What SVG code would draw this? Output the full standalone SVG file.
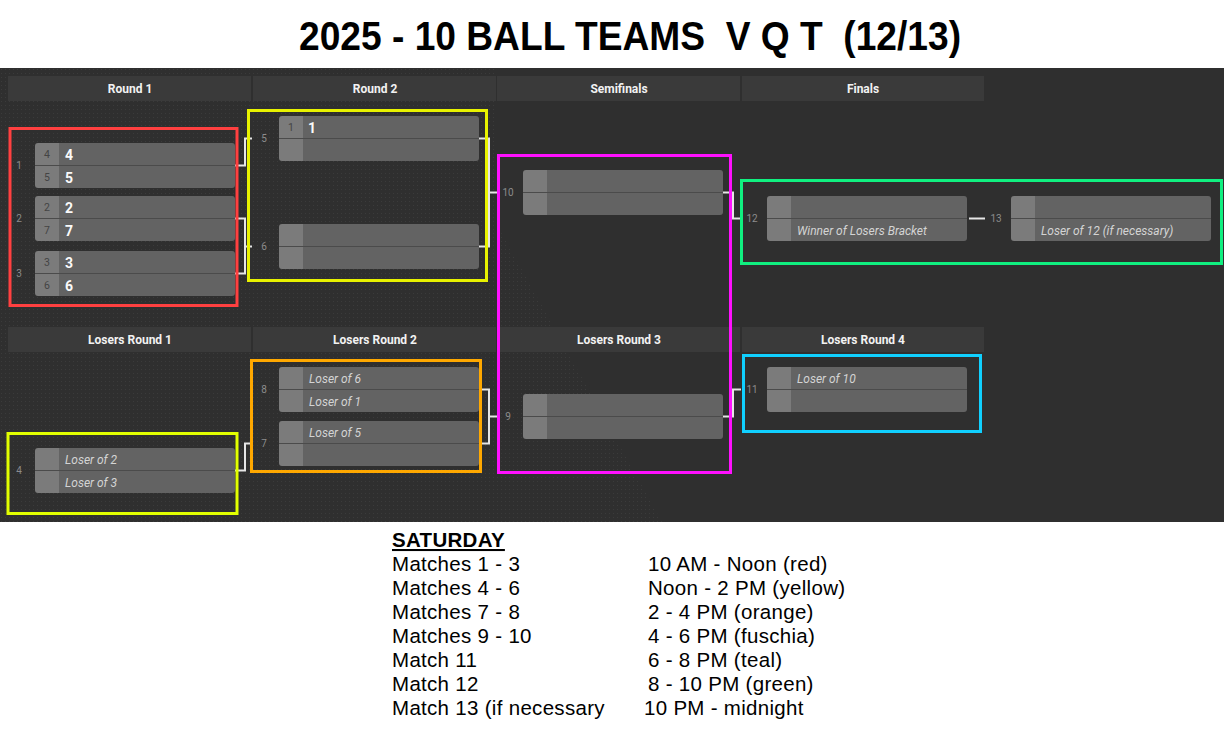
<svg xmlns="http://www.w3.org/2000/svg" xmlns:xlink="http://www.w3.org/1999/xlink" width="1224" height="736" viewBox="0 0 1224 736">
<style>
.hdr{fill:#3a3a3a}
.ht{font-family:Roboto,"Open Sans",sans-serif;font-weight:bold;font-size:12px;fill:#f2f2f2;text-anchor:middle}
.mn{font-family:Roboto,"Open Sans",sans-serif;font-size:10px;fill:#8c8c8c;text-anchor:middle}
.sd{font-family:Roboto,"Open Sans",sans-serif;font-size:10.5px;fill:#444;text-anchor:middle}
.tn{font-family:Roboto,"Open Sans",sans-serif;font-weight:bold;font-size:14px;fill:#fafafa}
.it{font-family:Roboto,"Open Sans",sans-serif;font-style:italic;font-size:12px;fill:#d4d4d4}
.con{fill:none;stroke:#e6e6e6;stroke-width:2}
.hl{fill:none;stroke-width:3}
.bt{font-family:"Liberation Sans",Arial,sans-serif;font-size:20.5px;letter-spacing:0.3px;fill:#000}
</style>
<defs>
<pattern id="dots" width="4" height="4" patternUnits="userSpaceOnUse">
<rect x="1" y="1" width="1" height="1" fill="#3b3b3b"/>
</pattern>
<g id="box">
<path d="M3,0 H24 V45 H3 A3,3 0 0 1 0,42 V3 A3,3 0 0 1 3,0 Z" fill="#7b7b7b"/>
<path d="M24,0 H197 A3,3 0 0 1 200,3 V42 A3,3 0 0 1 197,45 H24 Z" fill="#636363"/>
<line x1="0" y1="22.5" x2="200" y2="22.5" stroke="#4b4b4b" stroke-width="1"/>
</g>
</defs>
<rect width="1224" height="736" fill="#fff"/>
<text x="630" y="50" xml:space="preserve" text-anchor="middle" font-family="Liberation Sans, Arial, sans-serif" font-weight="bold" font-size="40" fill="#000" textLength="662" lengthAdjust="spacingAndGlyphs">2025 - 10 BALL TEAMS  V Q T  (12/13)</text>
<rect x="0" y="68" width="1224" height="454" fill="#2f2f2f"/>
<polygon points="0,68 497,68 497,225 662,522 0,522" fill="url(#dots)"/>

<g id="headers">
<rect class="hdr" x="8" y="76" width="243" height="25"/>
<rect class="hdr" x="253" y="76" width="243" height="25"/>
<rect class="hdr" x="497" y="76" width="243" height="25"/>
<rect class="hdr" x="742" y="76" width="242" height="25"/>
<text class="ht" x="130" y="92.5">Round 1</text>
<text class="ht" x="375" y="92.5">Round 2</text>
<text class="ht" x="619" y="92.5">Semifinals</text>
<text class="ht" x="863" y="92.5">Finals</text>
<rect class="hdr" x="8" y="327" width="243" height="25"/>
<rect class="hdr" x="253" y="327" width="243" height="25"/>
<rect class="hdr" x="497" y="327" width="243" height="25"/>
<rect class="hdr" x="742" y="327" width="242" height="25"/>
<text class="ht" x="130" y="343.5">Losers Round 1</text>
<text class="ht" x="375" y="343.5">Losers Round 2</text>
<text class="ht" x="619" y="343.5">Losers Round 3</text>
<text class="ht" x="863" y="343.5">Losers Round 4</text>
</g>

<g id="connectors">
<path class="con" d="M235,165.5 H245 V138.5 H252"/>
<path class="con" d="M235,218.5 H245 V273.5 H235 M245,246.5 H252"/>
<path class="con" d="M479,138.5 H489 V246.5 H479 M489,192.5 H497"/>
<path class="con" d="M723,192.5 H733 V218.5 H741"/>
<path class="con" d="M969,218.5 H985" stroke-width="2.5"/>
<path class="con" d="M235,470.5 H245 V443.5 H252"/>
<path class="con" d="M479,389.5 H489 V443.5 H479 M489,416.5 H497"/>
<path class="con" d="M723,416.5 H733 V389.5 H741"/>
</g>

<g id="m1">
<text class="mn" x="19" y="169">1</text>
<use xlink:href="#box" href="#box" x="35" y="143"/>
<text class="sd" x="47" y="158">4</text><text class="tn" x="65" y="159.5">4</text>
<text class="sd" x="47" y="181">5</text><text class="tn" x="65" y="182.5">5</text>
</g>
<g id="m2">
<text class="mn" x="19" y="222">2</text>
<use xlink:href="#box" href="#box" x="35" y="196"/>
<text class="sd" x="47" y="211">2</text><text class="tn" x="65" y="212.5">2</text>
<text class="sd" x="47" y="234">7</text><text class="tn" x="65" y="235.5">7</text>
</g>
<g id="m3">
<text class="mn" x="19" y="277">3</text>
<use xlink:href="#box" href="#box" x="35" y="251"/>
<text class="sd" x="47" y="266">3</text><text class="tn" x="65" y="267.5">3</text>
<text class="sd" x="47" y="289">6</text><text class="tn" x="65" y="290.5">6</text>
</g>
<g id="m5">
<text class="mn" x="264" y="142">5</text>
<use xlink:href="#box" href="#box" x="279" y="116"/>
<text class="sd" x="291" y="131">1</text><text class="tn" x="308" y="132.5">1</text>
</g>
<g id="m6">
<text class="mn" x="264" y="250">6</text>
<use xlink:href="#box" href="#box" x="279" y="224"/>
</g>
<g id="m10">
<text class="mn" x="508" y="196">10</text>
<use xlink:href="#box" href="#box" x="523" y="170"/>
</g>
<g id="m12">
<text class="mn" x="752" y="222">12</text>
<use xlink:href="#box" href="#box" x="767" y="196"/>
<text class="it" x="797" y="234.5">Winner of Losers Bracket</text>
</g>
<g id="m13">
<text class="mn" x="996" y="222">13</text>
<use xlink:href="#box" href="#box" x="1011" y="196"/>
<text class="it" x="1041" y="234.5">Loser of 12 (if necessary)</text>
</g>
<g id="m4">
<text class="mn" x="19" y="474">4</text>
<use xlink:href="#box" href="#box" x="35" y="448"/>
<text class="it" x="65" y="463.5">Loser of 2</text>
<text class="it" x="65" y="486.5">Loser of 3</text>
</g>
<g id="m8">
<text class="mn" x="264" y="393">8</text>
<use xlink:href="#box" href="#box" x="279" y="367"/>
<text class="it" x="309" y="382.5">Loser of 6</text>
<text class="it" x="309" y="405.5">Loser of 1</text>
</g>
<g id="m7">
<text class="mn" x="264" y="447">7</text>
<use xlink:href="#box" href="#box" x="279" y="421"/>
<text class="it" x="309" y="436.5">Loser of 5</text>
</g>
<g id="m9">
<text class="mn" x="508" y="420">9</text>
<use xlink:href="#box" href="#box" x="523" y="394"/>
</g>
<g id="m11">
<text class="mn" x="752" y="393">11</text>
<use xlink:href="#box" href="#box" x="767" y="367"/>
<text class="it" x="797" y="382.5">Loser of 10</text>
</g>

<g id="highlights">
<rect class="hl" x="10" y="128.5" width="227" height="177" stroke="#ff4040"/>
<rect class="hl" x="248.5" y="110.5" width="238" height="170" stroke="#e8f200"/>
<rect class="hl" x="498.5" y="155.5" width="232" height="317" stroke="#ff10ff"/>
<rect class="hl" x="741.5" y="180.5" width="480" height="83" stroke="#10f080"/>
<rect class="hl" x="8" y="433.5" width="229" height="80" stroke="#e2ff00"/>
<rect class="hl" x="251.5" y="360.5" width="229" height="111" stroke="#ffa800"/>
<rect class="hl" x="743.5" y="355.5" width="237" height="76" stroke="#10d0ff"/>
</g>

<g id="schedule">
<text class="bt" x="392" y="547" font-weight="bold" text-decoration="underline">SATURDAY</text>
<text class="bt" x="392" y="571">Matches 1 - 3</text>
<text class="bt" x="392" y="595">Matches 4 - 6</text>
<text class="bt" x="392" y="619">Matches 7 - 8</text>
<text class="bt" x="392" y="643">Matches 9 - 10</text>
<text class="bt" x="392" y="667">Match 11</text>
<text class="bt" x="392" y="691">Match 12</text>
<text class="bt" x="392" y="715">Match 13 (if necessary</text>
<text class="bt" x="648" y="571">10 AM - Noon (red)</text>
<text class="bt" x="648" y="595">Noon - 2 PM (yellow)</text>
<text class="bt" x="648" y="619">2 - 4 PM (orange)</text>
<text class="bt" x="648" y="643">4 - 6 PM (fuschia)</text>
<text class="bt" x="648" y="667">6 - 8 PM (teal)</text>
<text class="bt" x="648" y="691">8 - 10 PM (green)</text>
<text class="bt" x="644" y="715">10 PM - midnight</text>
</g>
</svg>
